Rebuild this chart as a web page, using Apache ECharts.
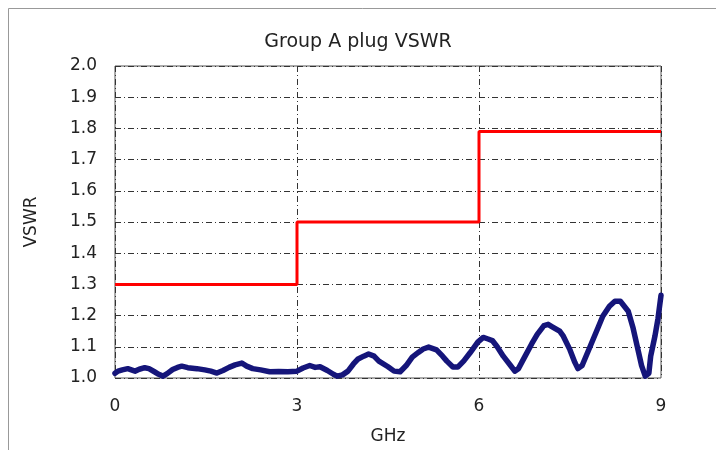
<!DOCTYPE html>
<html>
<head>
<meta charset="utf-8">
<script src="https://cdn.jsdelivr.net/npm/echarts@6/dist/echarts.min.js"></script>
<style>html,body{margin:0;padding:0;background:#fff}#c{width:716px;height:450px}</style>
</head>
<body>
<div id="c"></div>
<script>
const titleText = "Group A plug VSWR";
const xAxisName = "GHz";
const yAxisName = "VSWR";
const xTicks = [0, 3, 6, 9];
const yTicks = [1.0, 1.1, 1.2, 1.3, 1.4, 1.5, 1.6, 1.7, 1.8, 1.9, 2.0];

const specFreq = [0, 3, 3, 6, 6, 9];
const specVswr = [1.3, 1.3, 1.5, 1.5, 1.79, 1.79];

const measFreq = [0.00,0.05,0.12,0.21,0.27,0.33,0.40,0.49,0.56,0.65,0.72,0.79,0.86,0.95,1.03,1.10,1.20,1.35,1.48,1.58,1.68,1.78,1.88,1.98,2.09,2.17,2.27,2.40,2.55,2.70,2.85,3.00,3.10,3.21,3.30,3.38,3.50,3.60,3.66,3.75,3.84,3.93,4.00,4.10,4.18,4.27,4.35,4.50,4.60,4.70,4.80,4.90,5.00,5.08,5.17,5.30,5.40,5.47,5.57,5.65,5.75,5.85,5.98,6.07,6.15,6.22,6.30,6.40,6.52,6.59,6.65,6.76,6.87,6.96,7.07,7.14,7.20,7.33,7.39,7.50,7.58,7.63,7.70,7.83,7.97,8.04,8.15,8.24,8.33,8.46,8.54,8.61,8.68,8.74,8.80,8.83,8.90,8.95,9.00];
const measVswr = [1.015,1.022,1.026,1.030,1.026,1.022,1.028,1.033,1.030,1.020,1.012,1.006,1.014,1.027,1.034,1.038,1.033,1.030,1.026,1.022,1.016,1.024,1.034,1.042,1.048,1.038,1.030,1.026,1.020,1.021,1.020,1.022,1.032,1.040,1.034,1.036,1.024,1.012,1.006,1.010,1.022,1.045,1.060,1.070,1.077,1.070,1.054,1.036,1.022,1.020,1.040,1.067,1.082,1.093,1.099,1.090,1.070,1.054,1.035,1.035,1.055,1.080,1.115,1.130,1.125,1.120,1.100,1.070,1.040,1.022,1.030,1.070,1.110,1.140,1.168,1.172,1.165,1.150,1.134,1.090,1.050,1.030,1.040,1.100,1.165,1.198,1.230,1.246,1.246,1.214,1.160,1.100,1.040,1.006,1.015,1.070,1.134,1.190,1.265];

const FONT = "DejaVu Sans";
const chart = echarts.init(document.getElementById('c'), null, {renderer: 'canvas'});
const gridLine = {show: true, lineStyle: {color: '#333', width: 1, type: [6, 3, 1, 3]}};
chart.setOption({
  animation: false,
  backgroundColor: '#fff',
  title: {text: titleText, left: 'center', top: 28, textStyle: {fontFamily: FONT, fontSize: 19, fontWeight: 'normal', color: '#222'}},
  graphic: [{type: 'rect', shape: {x: 8.5, y: 8.5, width: 740, height: 480}, style: {fill: 'none', stroke: '#999', lineWidth: 1}, silent: true}],
  grid: {left: 115, right: 55, top: 66, bottom: 71, show: true, borderColor: '#555', borderWidth: 1, backgroundColor: 'transparent'},
  xAxis: {
    type: 'value', min: xTicks[0], max: xTicks[xTicks.length - 1], interval: 3,
    name: xAxisName, nameLocation: 'middle', nameGap: 50,
    nameTextStyle: {fontFamily: FONT, fontSize: 17, color: '#222'},
    axisLine: {show: false}, axisTick: {show: false},
    axisLabel: {fontFamily: FONT, fontSize: 17, color: '#222', margin: 20},
    splitLine: gridLine
  },
  yAxis: {
    type: 'value', min: yTicks[0], max: yTicks[yTicks.length - 1], interval: 0.1,
    name: yAxisName, nameLocation: 'middle', nameGap: 75,
    nameTextStyle: {fontFamily: FONT, fontSize: 17, color: '#222'},
    axisLine: {show: false}, axisTick: {show: false},
    axisLabel: {fontFamily: FONT, fontSize: 17, color: '#222', margin: 18, formatter: v => v.toFixed(1)},
    splitLine: gridLine
  },
  series: [
    {type: 'line', data: specFreq.map((x, i) => [x, specVswr[i]]), showSymbol: false, lineStyle: {color: '#ff0000', width: 3}, z: 3},
    {type: 'line', data: measFreq.map((x, i) => [x, measVswr[i]]), showSymbol: false, lineStyle: {color: '#15157a', width: 5.5, join: 'round', cap: 'round'}, z: 4}
  ]
});
</script>
</body>
</html>
